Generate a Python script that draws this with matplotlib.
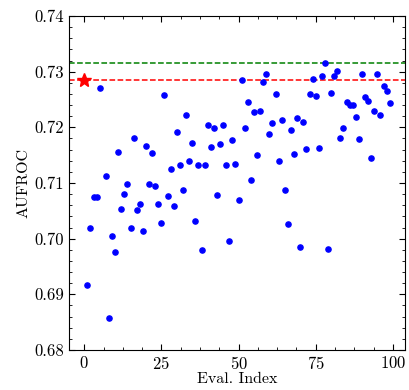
import numpy as np
import matplotlib
matplotlib.use("Agg")
import matplotlib.pyplot as plt
from matplotlib.ticker import MultipleLocator, AutoMinorLocator

plt.rcParams["font.family"] = "serif"
plt.rcParams["font.serif"] = ["cmr10", "DejaVu Serif"]
plt.rcParams["mathtext.fontset"] = "cm"
plt.rcParams["axes.formatter.use_mathtext"] = True

# values (index 6 has no point)
eval_index = [1, 2, 3, 4, 5, 7, 8, 9, 10, 11, 12, 13, 14, 15, 16, 17, 18, 19,
              20, 21, 22, 23, 24, 25, 26, 27, 28, 29, 30, 31, 32, 33, 34, 35, 36, 37, 38, 39, 40,
              41, 42, 43, 44, 45, 46, 47, 48, 49, 50, 51, 52, 53, 54, 55, 56, 57, 58, 59, 60,
              61, 62, 63, 64, 65, 66, 67, 68, 69, 70, 71, 72, 73, 74, 75, 76, 77, 78, 79, 80,
              81, 82, 83, 84, 85, 86, 87, 88, 89, 90, 91, 92, 93, 94, 95, 96, 97, 98, 99]
aufroc = [0.6916, 0.7019, 0.7074, 0.7074, 0.7271, 0.7113, 0.6857, 0.7004, 0.6976, 0.7156,
          0.7054, 0.7080, 0.7098, 0.7020, 0.7180, 0.7051, 0.7062, 0.7014,
          0.7167, 0.7098, 0.7153, 0.7095, 0.7062, 0.7029, 0.7258, 0.7077, 0.7126, 0.7058,
          0.7192, 0.7132, 0.7087, 0.7222, 0.7140, 0.7171, 0.7032, 0.7132, 0.6980, 0.7132, 0.7204,
          0.7165, 0.7199, 0.7079, 0.7170, 0.7205, 0.7133, 0.6996, 0.7178, 0.7134, 0.7070,
          0.7285, 0.7199, 0.7246, 0.7105, 0.7228, 0.7150, 0.7230, 0.7282, 0.7296, 0.7188,
          0.7207, 0.7260, 0.7139, 0.7214, 0.7087, 0.7026, 0.7195, 0.7152, 0.7216, 0.6985,
          0.7209, 0.7161, 0.7260, 0.7286, 0.7256, 0.7163, 0.7292, 0.7315, 0.6981, 0.7261,
          0.7292, 0.7302, 0.7180, 0.7199, 0.7246, 0.7240, 0.7240, 0.7219, 0.7179, 0.7296,
          0.7254, 0.7248, 0.7145, 0.7230, 0.7296, 0.7222, 0.7274, 0.7265, 0.7244]
baseline_index = 0
baseline_aufroc = 0.7285
best_aufroc = max(aufroc)

fig = plt.figure(figsize=(4.09, 3.9), dpi=100)
ax = fig.add_axes([0.1687, 0.1026, 0.8215, 0.8564])

ax.scatter(eval_index, aufroc, s=14, color="b", zorder=3)
ax.axhline(best_aufroc, color="g", linestyle="--", linewidth=1.1)
ax.axhline(baseline_aufroc, color="r", linestyle="--", linewidth=1.1)
ax.plot([baseline_index], [baseline_aufroc], marker="*", color="r", markersize=10, zorder=4)

ax.set_xlim(-4.95, 103.95)
ax.set_ylim(0.68, 0.74)
ax.xaxis.set_major_locator(MultipleLocator(25))
ax.xaxis.set_minor_locator(AutoMinorLocator(4))
ax.yaxis.set_major_locator(MultipleLocator(0.01))
ax.yaxis.set_minor_locator(AutoMinorLocator(5))
ax.yaxis.set_major_formatter(matplotlib.ticker.FormatStrFormatter("%.2f"))
ax.tick_params(which="both", direction="in", top=True, right=True, labelsize=12)
ax.tick_params(which="major", length=4)
ax.tick_params(which="minor", length=2)

ax.set_xlabel("Eval. Index", fontsize=11.5, labelpad=0)
ax.set_ylabel("AUFROC", fontsize=11.5, labelpad=3)

fig.savefig("out.png", dpi=100)
